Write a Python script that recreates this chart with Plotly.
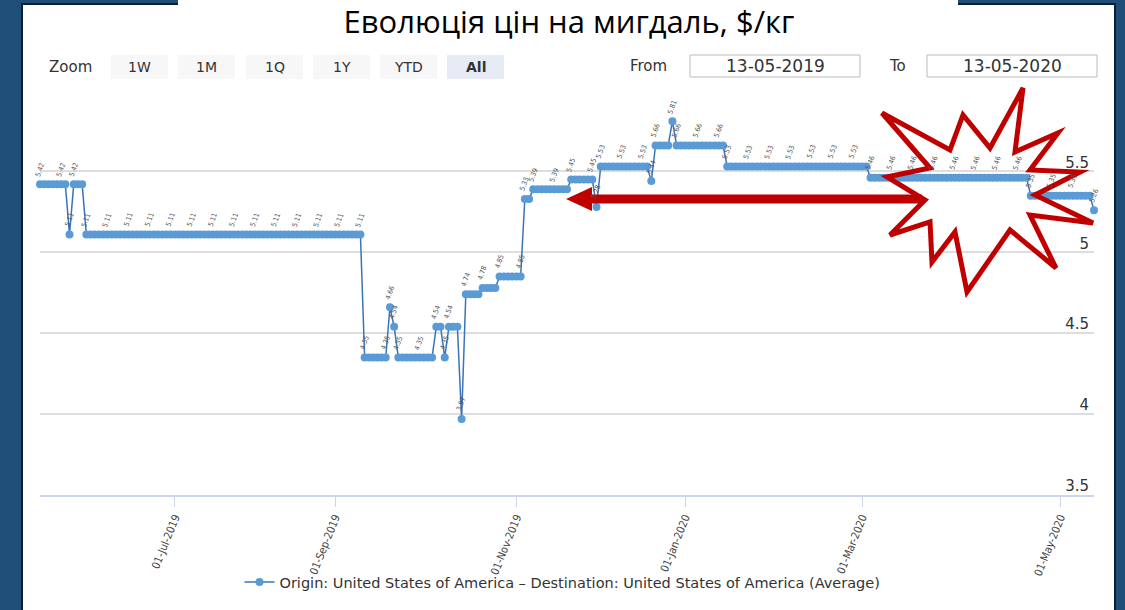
import plotly.graph_objects as go

W, H = 1125, 610


def X(px):
    return px / W


def Y(py):
    return 1 - py / H


# ---------------- data (step runs) ----------------
run_values = [5.42, 5.11, 5.42, 5.11, 4.35, 4.66, 4.54, 4.35, 4.54, 4.35, 4.54, 3.97,
              4.74, 4.78, 4.85, 5.33, 5.39, 5.45, 5.28, 5.53, 5.44, 5.66, 5.81, 5.66,
              5.53, 5.46, 5.35, 5.26]
run_lengths = [7, 1, 3, 66, 6, 1, 1, 9, 2, 1, 3, 1,
               4, 4, 6, 2, 9, 6, 1, 12, 1, 4, 1, 12,
               34, 38, 15, 1]

tick_index = [32, 70, 113, 153, 195, 242]
tick_labels = ["01-Jul-2019", "01-Sep-2019", "01-Nov-2019",
               "01-Jan-2020", "01-Mar-2020", "01-May-2020"]
y_ticks = [3.5, 4, 4.5, 5, 5.5, 6]
y_tick_labels = ["3.5", "4", "4.5", "5", "5.5", ""]

series_name = ("Origin: United States of America \u2013 Destination: "
               "United States of America (Average)")
title_text = "Еволюція цін на мигдаль, $/кг"
zoom_buttons = ["1W", "1M", "1Q", "1Y", "YTD", "All"]
date_from = "13-05-2019"
date_to = "13-05-2020"

values = []
run_start = []
for v, n in zip(run_values, run_lengths):
    for k in range(n):
        values.append(v)
        run_start.append(k == 0)
idx = list(range(len(values)))

# ---------------- figure ----------------
fig = go.Figure()
fig.add_trace(go.Scatter(
    x=idx, y=values, mode="lines+markers", name=series_name,
    line=dict(color="#3a74b8", width=1.5),
    marker=dict(color="#5b9bd5", size=8),
    cliponaxis=False, showlegend=True, hoverinfo="skip",
))

annotations = []

# data labels (Highcharts-like, rotated, thinned to avoid overlap)
last = -10
for i, v in zip(idx, values):
    if (run_start[i] and i - last >= 1) or i - last >= 5:
        annotations.append(dict(
            x=i, y=v, xref="x", yref="y", text=f"{v:.2f}", showarrow=False,
            textangle=-70, xanchor="center", yanchor="bottom", yshift=4,
            font=dict(family="DejaVu Sans Condensed", size=7, color="#555555"),
        ))
        last = i

shapes = []
# slide background
shapes.append(dict(type="rect", xref="paper", yref="paper", layer="below",
                   x0=X(22), x1=X(1115), y0=Y(612), y1=Y(4),
                   fillcolor="white", line=dict(color="#0e1e30", width=2)))
shapes.append(dict(type="rect", xref="paper", yref="paper", layer="below",
                   x0=X(178), x1=X(958), y0=Y(12), y1=Y(-2),
                   fillcolor="white", line=dict(width=0)))

ui_font = dict(family="DejaVu Sans", size=14, color="#333333")

# range selector look-alike
annotations.append(dict(x=X(70), y=Y(67), xref="paper", yref="paper", text="Zoom",
                        showarrow=False, xanchor="center", yanchor="middle",
                        font=dict(family="DejaVu Sans", size=15, color="#333333")))
btn_left = [111, 178, 246, 313, 380, 447]
for b, x0 in zip(zoom_buttons, btn_left):
    sel = b == "All"
    shapes.append(dict(type="rect", xref="paper", yref="paper", layer="below",
                       x0=X(x0), x1=X(x0 + 57), y0=Y(79), y1=Y(55),
                       fillcolor="#e6ebf5" if sel else "#f7f7f7", line=dict(width=0)))
    annotations.append(dict(x=X(x0 + 28.5), y=Y(67), xref="paper", yref="paper",
                            text=f"<b>{b}</b>" if sel else b, showarrow=False,
                            xanchor="center", yanchor="middle", font=ui_font))

annotations.append(dict(x=X(648), y=Y(66), xref="paper", yref="paper", text="From",
                        showarrow=False, xanchor="center", yanchor="middle",
                        font=dict(family="DejaVu Sans", size=15, color="#333333")))
annotations.append(dict(x=X(897), y=Y(66), xref="paper", yref="paper", text="To",
                        showarrow=False, xanchor="center", yanchor="middle",
                        font=dict(family="DejaVu Sans", size=15, color="#333333")))
for txt, (x0, x1) in zip([date_from, date_to], [(690, 860), (927, 1097)]):
    shapes.append(dict(type="rect", xref="paper", yref="paper", layer="below",
                       x0=X(x0), x1=X(x1), y0=Y(77), y1=Y(55),
                       fillcolor="white", line=dict(color="#bbbbbb", width=1)))
    annotations.append(dict(x=X((x0 + x1) / 2), y=Y(66), xref="paper", yref="paper",
                            text=txt, showarrow=False, xanchor="center", yanchor="middle",
                            font=dict(family="DejaVu Sans", size=17, color="#333333")))


def poly(points):
    s = "M " + " L ".join(f"{X(px):.5f},{Y(py):.5f}" for px, py in points) + " Z"
    return s


# red arrow
arrow_pts = [(566, 199), (592, 187), (592, 194.5), (922, 194.5),
             (922, 203.5), (592, 203.5), (592, 211)]
shapes.append(dict(type="path", xref="paper", yref="paper", layer="above",
                   path=poly(arrow_pts), fillcolor="#c00000", line=dict(width=0)))

# red burst outline
star_pts = [(882, 113), (950, 150), (963, 115), (990, 148), (1023, 88), (1015, 152),
            (1058, 133), (1030, 170), (1080, 172), (1035, 195), (1093, 223),
            (1030, 215), (1056, 268), (1010, 230), (967, 292), (955, 232),
            (932, 262), (930, 222), (890, 235), (925, 200), (887, 177), (930, 168)]
shapes.append(dict(type="path", xref="paper", yref="paper", layer="above",
                   path=poly(star_pts), fillcolor="rgba(0,0,0,0)",
                   line=dict(color="#c00000", width=5)))

fig.update_layout(
    width=W, height=H, autosize=False,
    margin=dict(l=0, r=0, t=0, b=0),
    paper_bgcolor="#1f4e79", plot_bgcolor="white",
    title=dict(text=title_text, x=X(569), xanchor="center", y=Y(22), yanchor="middle",
               font=dict(family="Open Sans", size=31, color="#000000")),
    xaxis=dict(domain=[X(40), X(1094)], range=[0, len(values) - 1],
               tickmode="array", tickvals=tick_index, ticktext=tick_labels,
               tickangle=-68, ticks="outside", ticklen=10, tickcolor="#ccd6eb",
               showgrid=False, zeroline=False, showline=True, linecolor="#ccd6eb",
               linewidth=1.5, automargin=False,
               tickfont=dict(family="DejaVu Sans Condensed", size=11, color="#444444")),
    yaxis=dict(domain=[Y(495), Y(90)], range=[3.5, 6.003], side="right",
               tickmode="array", tickvals=y_ticks, ticktext=y_tick_labels,
               ticklabelposition="inside", ticklabelshift=-9, ticklabelstandoff=2,
               ticklabeloverflow="allow",
               showgrid=True, gridcolor="#dedede", gridwidth=1.5, zeroline=False,
               showline=False, ticks="", automargin=False,
               tickfont=dict(family="DejaVu Sans", size=15, color="#333333")),
    legend=dict(orientation="h", x=0.5, xanchor="center", y=Y(582), yanchor="middle",
                bgcolor="rgba(0,0,0,0)",
                font=dict(family="DejaVu Sans", size=14.5, color="#333333")),
    showlegend=True,
    shapes=shapes,
    annotations=annotations,
)

fig.write_html("out.html", config={"displayModeBar": False},
               post_script="document.body.style.margin='0';")
